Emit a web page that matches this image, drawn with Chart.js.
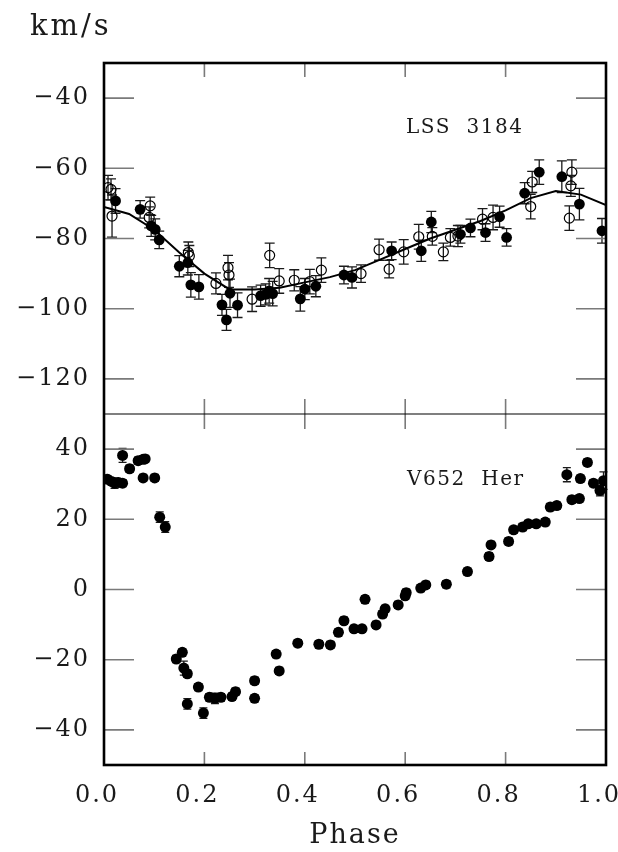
<!DOCTYPE html>
<html>
<head>
<meta charset="utf-8">
<script src="https://cdn.jsdelivr.net/npm/chart.js@4.4.0/dist/chart.umd.min.js"></script>
<style>
html, body { margin: 0; padding: 0; background: #fff; }
#wrap { width: 618px; height: 852px; }
</style>
</head>
<body>
<div id="wrap"><canvas id="rv" width="618" height="852"></canvas></div>
<script>
// tick values
const phaseTicks = [0, 0.2, 0.4, 0.6, 0.8, 1.0];
const lssTicks = [-120, -100, -80, -60, -40];
const v652Ticks = [-40, -20, 0, 20, 40];

// LSS 3184, filled symbols
const lssFilledPhase = [0.023, 0.072, 0.094, 0.102, 0.110, 0.150, 0.167, 0.173, 0.189, 0.235, 0.244, 0.251, 0.266, 0.312, 0.322, 0.329, 0.336, 0.391, 0.400, 0.422, 0.478, 0.494, 0.573, 0.632, 0.652, 0.710, 0.730, 0.760, 0.788, 0.802, 0.838, 0.867, 0.912, 0.947, 0.992];
const lssFilledVel = [-69.3, -71.7, -76.4, -77.4, -80.4, -87.9, -86.9, -93.2, -93.8, -98.9, -103.2, -95.6, -99.0, -96.3, -95.9, -94.9, -95.7, -97.2, -94.4, -93.6, -90.4, -91.1, -83.5, -83.5, -75.3, -78.8, -77.0, -78.3, -73.8, -79.7, -67.1, -61.1, -62.4, -70.2, -77.8];
const lssFilledErr = [3.5, 2.5, 3, 3, 2.5, 3, 3.5, 3.5, 3.5, 3, 3, 4, 3.5, 3, 3, 3.5, 3.5, 3.5, 3, 3, 2.5, 3, 2.5, 3, 3, 2.5, 2.5, 2.5, 3, 2.5, 3, 3.5, 4.5, 4.5, 3.5];

// LSS 3184, open symbols
const lssOpenPhase = [0.008, 0.014, 0.016, 0.090, 0.092, 0.168, 0.170, 0.223, 0.247, 0.249, 0.295, 0.330, 0.349, 0.379, 0.410, 0.433, 0.512, 0.548, 0.568, 0.597, 0.627, 0.654, 0.676, 0.690, 0.705, 0.754, 0.775, 0.850, 0.853, 0.927, 0.930, 0.932];
const lssOpenVel = [-65.5, -66.0, -73.6, -74.0, -70.7, -84.0, -85.0, -92.8, -88.3, -90.4, -97.3, -84.8, -92.1, -91.9, -92.3, -89.0, -90.0, -83.2, -88.7, -83.8, -79.5, -79.4, -83.8, -79.7, -79.3, -74.5, -74.0, -70.9, -63.9, -74.2, -65.0, -61.1];
const lssOpenErr = [3.5, 3, 6, 3, 2.5, 3, 3, 3, 3.5, 3.5, 3.5, 3.5, 3.5, 3, 3.5, 3.5, 2.5, 3, 2.5, 3.5, 3.5, 2.5, 2.5, 2.5, 3, 3, 3.5, 3.5, 3, 3.5, 3, 3.5];

// LSS 3184, fitted curve
const lssCurvePhase = [0.00, 0.05, 0.10, 0.15, 0.20, 0.25, 0.30, 0.35, 0.40, 0.45, 0.50, 0.55, 0.60, 0.65, 0.70, 0.75, 0.80, 0.85, 0.90, 0.95, 1.00];
const lssCurveVel = [-71, -73, -77.5, -84, -90, -94.5, -94.5, -94, -92.5, -91, -89, -86, -83, -80, -77.5, -75, -72, -68.5, -66.5, -67.5, -70.5];

// V652 Her
const v652Phase = [0.007, 0.015, 0.021, 0.029, 0.037, 0.037, 0.051, 0.068, 0.078, 0.082, 0.078, 0.101, 0.111, 0.122, 0.144, 0.156, 0.159, 0.166, 0.166, 0.188, 0.198, 0.210, 0.221, 0.233, 0.255, 0.262, 0.300, 0.300, 0.343, 0.349, 0.386, 0.428, 0.451, 0.467, 0.478, 0.498, 0.514, 0.520, 0.542, 0.555, 0.560, 0.586, 0.600, 0.602, 0.631, 0.641, 0.682, 0.724, 0.767, 0.771, 0.806, 0.816, 0.834, 0.845, 0.861, 0.879, 0.889, 0.902, 0.922, 0.932, 0.947, 0.949, 0.963, 0.975, 0.988, 0.995];
const v652Vel = [31.4, 30.8, 30.3, 30.5, 30.3, 38.2, 34.4, 36.7, 37.1, 37.2, 31.8, 31.8, 20.6, 17.8, -19.8, -17.9, -22.4, -24.0, -32.6, -27.8, -35.2, -30.7, -31.0, -30.7, -30.5, -29.1, -26.0, -31.0, -18.4, -23.2, -15.3, -15.6, -15.8, -12.2, -8.9, -11.2, -11.2, -2.8, -10.1, -7.0, -5.5, -4.4, -1.8, -0.9, 0.4, 1.3, 1.5, 5.1, 9.4, 12.7, 13.7, 17.0, 17.8, 18.7, 18.7, 19.2, 23.5, 23.9, 32.7, 25.6, 25.9, 31.6, 36.2, 30.3, 28.2, 31.0];
const v652Err = [1, 1, 1.5, 1, 1, 2, 1, 1, 1, 1, 1, 1, 1.5, 1.5, 1, 1, 2, 1, 1.5, 1, 1.5, 1, 1.5, 1, 1, 1, 1, 1, 1, 1, 1, 1, 1, 1, 1, 1, 1, 1, 1, 1, 1, 1, 1, 1, 1, 1, 1, 1, 1, 1, 1, 1, 1, 1, 1, 1, 1, 1, 2, 1, 1, 1, 1, 1, 1.5, 2.5];

const serif = "'DejaVu Serif', serif";
const ink = '#1a1a1a';
const tickGrey = '#7a7a7a';

function pts(xs, ys) {
    return xs.map((x, i) => ({ x: x, y: ys[i] }));
}
function minusFmt(v) {
    return v < 0 ? '\u2212' + Math.abs(v) : String(v);
}
function noEdgePadding(s) {
    s.paddingLeft = 0; s.paddingRight = 0;
    s.paddingTop = 0; s.paddingBottom = 0;
}

// error bars drawn through the dataset's own y scale
const errorBars = {
    id: 'errorBars',
    beforeDatasetsDraw(chart) {
        const ctx = chart.ctx;
        ctx.save();
        ctx.strokeStyle = ink;
        ctx.lineWidth = 1.3;
        chart.data.datasets.forEach(ds => {
            if (!ds.errors) return;
            const ys = chart.scales[ds.yAxisID];
            const xs = chart.scales.x;
            const cap = ds.capHalf || 5;
            ds.data.forEach((p, i) => {
                const e = ds.errors[i];
                const px = xs.getPixelForValue(p.x);
                const top = ys.getPixelForValue(p.y + e);
                const bot = ys.getPixelForValue(p.y - e);
                ctx.beginPath();
                ctx.moveTo(px, top); ctx.lineTo(px, bot);
                ctx.moveTo(px - cap, top); ctx.lineTo(px + cap, top);
                ctx.moveTo(px - cap, bot); ctx.lineTo(px + cap, bot);
                ctx.stroke();
            });
        });
        ctx.restore();
    }
};

// frame, inward ticks and in-panel labels
const framePlugin = {
    id: 'framePlugin',
    beforeDraw(chart) {
        chart.ctx.letterSpacing = '2px';
    },
    afterDraw(chart) {
        const ctx = chart.ctx;
        const a = chart.chartArea;
        const x = chart.scales.x, yt = chart.scales.yTop, yb = chart.scales.yBot;
        const mid = yt.bottom;
        ctx.save();
        ctx.strokeStyle = tickGrey;
        ctx.lineWidth = 1.6;
        ctx.beginPath();
        [[yt, lssTicks], [yb, v652Ticks]].forEach(([s, tv]) => {
            tv.forEach(v => {
                const py = s.getPixelForValue(v);
                ctx.moveTo(a.left, py); ctx.lineTo(a.left + 30, py);
                ctx.moveTo(a.right - 30, py); ctx.lineTo(a.right, py);
            });
        });
        phaseTicks.slice(1, -1).forEach(v => {
            const px = x.getPixelForValue(v);
            ctx.moveTo(px, a.top); ctx.lineTo(px, a.top + 14);
            ctx.moveTo(px, mid - 15); ctx.lineTo(px, mid + 15);
            ctx.moveTo(px, a.bottom); ctx.lineTo(px, a.bottom - 13);
        });
        ctx.stroke();

        ctx.strokeStyle = '#000';
        ctx.lineWidth = 1.2;
        ctx.beginPath();
        ctx.moveTo(a.left, mid); ctx.lineTo(a.right, mid);
        ctx.stroke();
        ctx.lineWidth = 2.6;
        ctx.strokeRect(a.left, a.top, a.right - a.left, a.bottom - a.top);

        ctx.fillStyle = ink;
        ctx.textBaseline = 'middle';
        ctx.textAlign = 'left';
        ctx.letterSpacing = '1.5px';
        ctx.font = '20px ' + serif;
        ctx.fillText('LSS  3184', 406, 128);
        ctx.fillText('V652  Her', 407, 480);
        ctx.letterSpacing = '3px';
        ctx.font = '29px ' + serif;
        ctx.fillText('km/s', 30, 27);
        ctx.restore();
    }
};

const tickFont = { family: serif, size: 24 };

new Chart(document.getElementById('rv'), {
    type: 'scatter',
    data: {
        datasets: [
            {
                label: 'LSS 3184 filled',
                data: pts(lssFilledPhase, lssFilledVel),
                errors: lssFilledErr,
                yAxisID: 'yTop',
                pointRadius: 5.4,
                pointBackgroundColor: '#000',
                pointBorderColor: '#000',
                pointBorderWidth: 0,
                order: 1
            },
            {
                label: 'LSS 3184 open',
                data: pts(lssOpenPhase, lssOpenVel),
                errors: lssOpenErr,
                yAxisID: 'yTop',
                pointRadius: 5,
                pointBackgroundColor: 'rgba(0,0,0,0)',
                pointBorderColor: '#000',
                pointBorderWidth: 1.2,
                order: 2
            },
            {
                label: 'LSS 3184 fit',
                type: 'line',
                data: pts(lssCurvePhase, lssCurveVel),
                yAxisID: 'yTop',
                borderColor: '#000',
                borderWidth: 2,
                pointRadius: 0,
                tension: 0,
                fill: false,
                order: 3
            },
            {
                label: 'V652 Her',
                data: pts(v652Phase, v652Vel),
                errors: v652Err,
                capHalf: 4,
                yAxisID: 'yBot',
                pointRadius: 5.5,
                pointBackgroundColor: '#000',
                pointBorderColor: '#000',
                pointBorderWidth: 0,
                order: 1
            }
        ]
    },
    options: {
        responsive: false,
        animation: false,
        layout: { padding: { top: 63, right: 12, left: 0, bottom: 0 } },
        plugins: {
            legend: { display: false },
            tooltip: { enabled: false }
        },
        scales: {
            x: {
                type: 'linear',
                min: 0,
                max: 1,
                afterBuildTicks: s => { s.ticks = phaseTicks.map(v => ({ value: v })); },
                afterFit: s => { s.height = 87; noEdgePadding(s); },
                grid: { display: false, drawTicks: false },
                border: { display: false },
                ticks: {
                    callback: v => v.toFixed(1),
                    font: tickFont,
                    color: ink,
                    padding: 16,
                    labelOffset: -7,
                    maxRotation: 0,
                    autoSkip: false
                },
                title: {
                    display: true,
                    text: 'Phase',
                    font: { family: serif, size: 27 },
                    color: ink,
                    padding: { top: 0, bottom: 0 }
                }
            },
            yBot: {
                type: 'linear',
                min: -50,
                max: 50,
                stack: 'rv',
                stackWeight: 1,
                position: 'left',
                afterBuildTicks: s => { s.ticks = v652Ticks.map(v => ({ value: v })); },
                afterFit: s => { s.width = 104; noEdgePadding(s); },
                grid: { display: false, drawTicks: false },
                border: { display: false },
                ticks: { callback: minusFmt, font: tickFont, color: ink, padding: 14 }
            },
            yTop: {
                type: 'linear',
                min: -130,
                max: -30,
                stack: 'rv',
                stackWeight: 1,
                position: 'left',
                afterBuildTicks: s => { s.ticks = lssTicks.map(v => ({ value: v })); },
                afterFit: s => { s.width = 104; noEdgePadding(s); },
                grid: { display: false, drawTicks: false },
                border: { display: false },
                ticks: { callback: minusFmt, font: tickFont, color: ink, padding: 14 }
            }
        }
    },
    plugins: [errorBars, framePlugin]
});
</script>
</body>
</html>
